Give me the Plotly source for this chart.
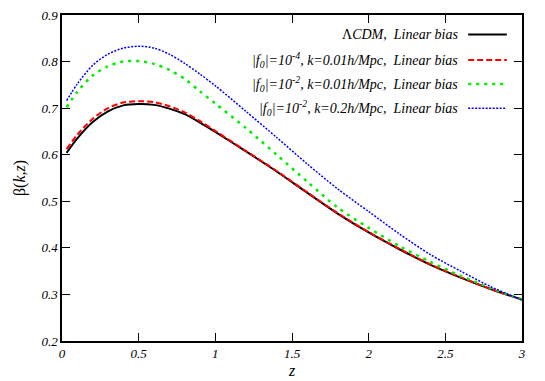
import plotly.graph_objects as go

# values
z = [0.03, 0.1, 0.2, 0.3, 0.4, 0.5, 0.6, 0.7, 0.8, 0.9, 1.0, 1.2, 1.4,
     1.6, 1.8, 2.0, 2.2, 2.4, 2.6, 2.8, 3.0]
beta_lcdm = [0.604, 0.635, 0.670, 0.693, 0.706, 0.709, 0.707, 0.699, 0.687,
             0.669, 0.649, 0.607, 0.564, 0.518, 0.473, 0.433, 0.397, 0.364,
             0.336, 0.311, 0.289]
beta_f4_k001 = [0.612, 0.643, 0.677, 0.700, 0.712, 0.715, 0.713, 0.704, 0.691,
                0.672, 0.651, 0.608, 0.565, 0.519, 0.474, 0.434, 0.398, 0.365,
                0.337, 0.311, 0.289]
beta_f2_k001 = [0.702, 0.735, 0.770, 0.790, 0.800, 0.801, 0.795, 0.782, 0.763,
                0.736, 0.710, 0.657, 0.600, 0.542, 0.486, 0.443, 0.404, 0.370,
                0.340, 0.313, 0.289]
beta_f2_k02 = [0.716, 0.752, 0.792, 0.816, 0.829, 0.833, 0.829, 0.816, 0.796,
               0.773, 0.748, 0.693, 0.637, 0.580, 0.526, 0.478, 0.430, 0.386,
               0.350, 0.316, 0.288]

labels = ["\u039b<i>CDM,  Linear bias</i>",
          "<i>|f<sub>0</sub>|=10<sup>-4</sup>, k=0.01h/Mpc,  Linear bias</i>",
          "<i>|f<sub>0</sub>|=10<sup>-2</sup>, k=0.01h/Mpc,  Linear bias</i>",
          "<i>|f<sub>0</sub>|=10<sup>-2</sup>, k=0.2h/Mpc,  Linear bias</i>"]
colors = ["black", "red", "#00ee00", "blue"]
dashes = ["solid", "6px,3px", "3px,5px", "2px,1.5px"]
widths = [2, 2, 2.5, 1.5]
series = [beta_lcdm, beta_f4_k001, beta_f2_k001, beta_f2_k02]

font = "Times New Roman"

fig = go.Figure()
for ys, c, d, w in zip(series, colors, dashes, widths):
    fig.add_trace(go.Scatter(x=z, y=ys, mode="lines", showlegend=False,
                             line=dict(color=c, dash=d, width=w,
                                       shape="spline", smoothing=0.8)))

# legend drawn by hand: text on the left, sample line on the right
rows = [0.940, 0.862, 0.788, 0.714]
for lab, c, d, w, yy in zip(labels, colors, dashes, widths, rows):
    fig.add_annotation(x=0.866, y=yy, xref="paper", yref="paper", text=lab,
                       showarrow=False, xanchor="right", yanchor="middle",
                       font=dict(family=font, size=14, color="black"))
    fig.add_shape(type="line", xref="paper", yref="paper", x0=0.883, x1=0.967,
                  y0=yy, y1=yy, line=dict(color=c, dash=d, width=w))

axis = dict(showline=True, mirror="ticks", linecolor="black", linewidth=1.5,
            ticks="inside", ticklen=8, tickwidth=1.2, tickcolor="black",
            showgrid=False, zeroline=False, automargin=False,
            tickfont=dict(family=font, size=13, color="black", style="italic"))

fig.update_xaxes(range=[0, 3], tickvals=[0, 0.5, 1, 1.5, 2, 2.5, 3],
                 ticktext=["0", "0.5", "1", "1.5", "2", "2.5", "3"],
                 title=dict(text="<i>z</i>", standoff=4,
                            font=dict(family=font, size=16, color="black")),
                 **axis)
fig.update_yaxes(range=[0.2, 0.9], dtick=0.1, tickformat=".1f",
                 title=dict(text="\u03b2(<i>k,z</i>)", standoff=12,
                            font=dict(family=font, size=16, color="black")),
                 **axis)

fig.update_layout(width=545, height=381, plot_bgcolor="white",
                  paper_bgcolor="white", font=dict(family=font),
                  margin=dict(l=62, r=23, t=15, b=40))
# drop the page's default body margin so the figure sits at the window corner
fig.write_html("out.html", config={"displayModeBar": False},
               post_script="document.body.style.margin='0';")
